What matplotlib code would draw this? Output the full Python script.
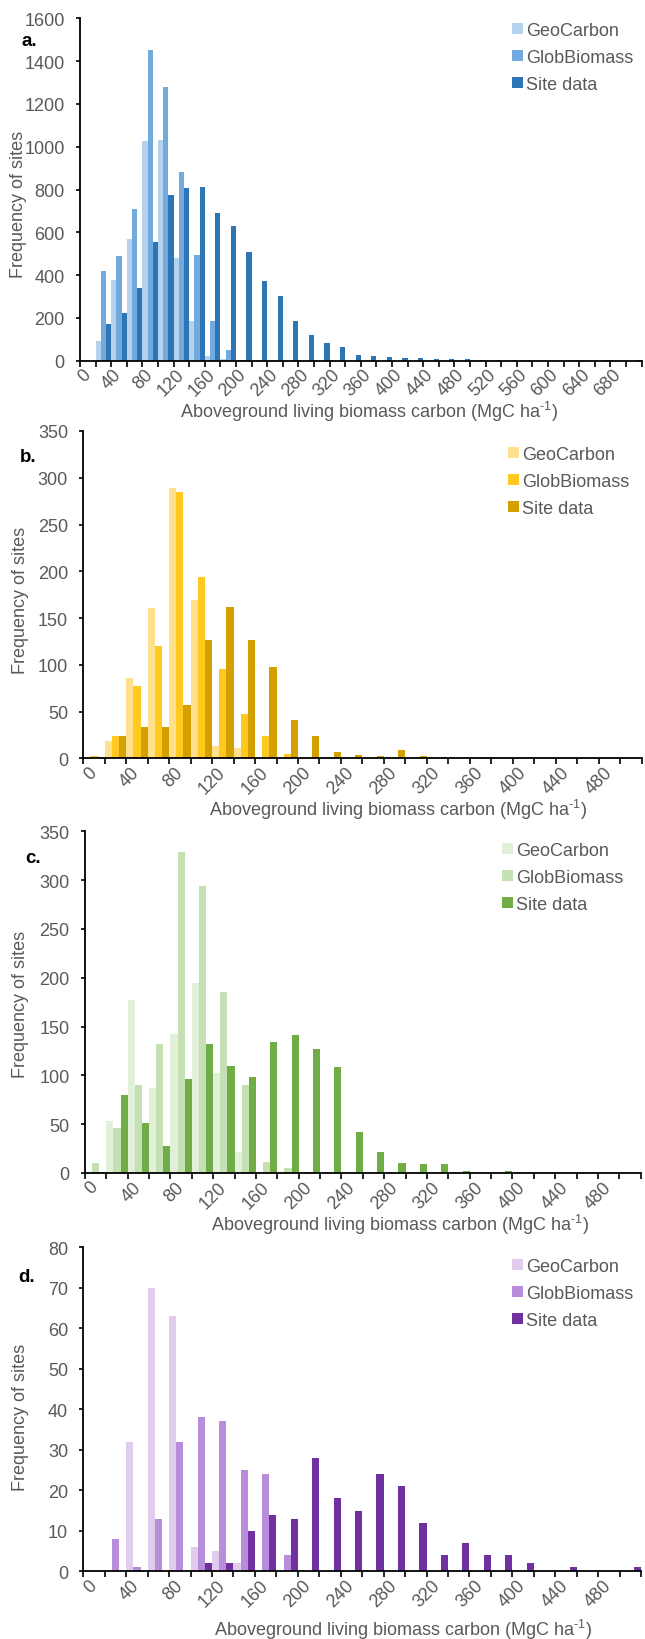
import numpy as np
import matplotlib
matplotlib.use('Agg')
import matplotlib.pyplot as plt

plt.rcParams['font.family'] = ['Liberation Sans', 'DejaVu Sans']
plt.rcParams['mathtext.fontset'] = 'custom'
plt.rcParams['mathtext.rm'] = 'Liberation Sans'
plt.rcParams['mathtext.default'] = 'regular'

# bin starts (MgC/ha) for each panel
bins_a = [0, 20, 40, 60, 80, 100, 120, 140, 160, 180, 200, 220, 240, 260, 280, 300, 320, 340,
          360, 380, 400, 420, 440, 460, 480, 500, 520, 540, 560, 580, 600, 620, 640, 660, 680, 700]
bins_bcd = [0, 20, 40, 60, 80, 100, 120, 140, 160, 180, 200, 220, 240, 260, 280, 300, 320, 340,
            360, 380, 400, 420, 440, 460, 480, 500]

# a.
geo_a = [0, 90, 375, 568, 1025, 1033, 481, 187, 24, 8, 1, 0, 0, 0, 0, 0, 0, 0,
         0, 0, 0, 0, 0, 0, 0, 0, 0, 0, 0, 0, 0, 0, 0, 0, 0, 0]
glob_a = [0, 420, 490, 709, 1453, 1279, 880, 494, 187, 52, 3, 0, 0, 0, 0, 0, 0, 0,
          0, 0, 0, 0, 0, 0, 0, 0, 0, 0, 0, 0, 0, 0, 0, 0, 0, 0]
site_a = [0, 170, 225, 338, 553, 773, 808, 813, 688, 631, 506, 374, 301, 187, 118, 83, 62, 28,
          20, 17, 11, 14, 8, 6, 8, 3, 2, 2, 2, 0, 0, 1, 0, 1, 0, 1]

# b.
geo_b = [0, 19, 86, 161, 289, 169, 13, 11, 0, 0, 0, 0, 0, 0, 0, 0, 0, 0, 0, 0, 0, 0, 0, 0, 0, 0]
glob_b = [2, 24, 77, 120, 285, 194, 96, 47, 24, 5, 0, 0, 0, 0, 0, 0, 0, 0, 0, 0, 0, 0, 0, 0, 0, 0]
site_b = [1, 24, 33, 34, 57, 126, 162, 127, 98, 41, 24, 7, 3, 2, 9, 2, 1, 1, 1, 0, 1, 0, 0, 0, 0, 0]

# c.
geo_c = [0, 53, 177, 87, 142, 195, 102, 22, 0, 0, 0, 0, 0, 0, 0, 0, 0, 0, 0, 0, 0, 0, 0, 0, 0, 0]
glob_c = [10, 46, 90, 132, 329, 294, 185, 90, 11, 5, 1, 0, 0, 0, 0, 0, 0, 0, 0, 0, 0, 0, 0, 0, 0, 0]
site_c = [1, 80, 51, 28, 96, 132, 110, 98, 134, 141, 127, 109, 42, 22, 10, 9, 9, 2, 0, 2, 0, 0, 0, 0, 0, 0]

# d.
geo_d = [0, 0, 32, 70, 63, 6, 5, 2, 0, 0, 0, 0, 0, 0, 0, 0, 0, 0, 0, 0, 0, 0, 0, 0, 0, 0]
glob_d = [0, 8, 1, 13, 32, 38, 37, 25, 24, 4, 0, 0, 0, 0, 0, 0, 0, 0, 0, 0, 0, 0, 0, 0, 0, 0]
site_d = [0, 0, 0, 0, 0, 2, 2, 10, 14, 13, 28, 18, 15, 24, 21, 12, 4, 7, 4, 4, 2, 0, 1, 0, 0, 1]

series_names = ['GeoCarbon', 'GlobBiomass', 'Site data']

GREY = '#595959'
FS = 13

fig = plt.figure(figsize=(6.45, 16.4), dpi=100)


def panel(rect, bins, geo, glob, site, colors, ymax, ystep, letter, letter_xy,
          leg_xy, ylab_xy, xlab_xy):
    ax = fig.add_axes(rect)
    x = np.arange(len(bins))
    w = 1 / 3
    for off, vals, c, name in zip([-w, 0, w], [geo, glob, site], colors, series_names):
        ax.bar(x + off, vals, w, color=c, label=name, linewidth=0)
    ax.set_xlim(-0.5, len(bins) - 0.5)
    ax.set_ylim(0, ymax)
    ax.set_yticks(np.arange(0, ymax + 1, ystep))
    ax.set_xticks(x[::2], [str(b) for b in bins[::2]], rotation=45, ha='right',
                  va='center', rotation_mode='anchor')
    ax.set_xticks(np.arange(len(bins) + 1) - 0.5, minor=True)
    ax.tick_params(axis='x', which='major', length=0, pad=8, labelcolor=GREY, labelsize=FS)
    ax.tick_params(axis='x', which='minor', length=4, width=1.2, direction='out')
    ax.tick_params(axis='y', length=3, width=1.2, pad=8, labelcolor=GREY, labelsize=FS)
    for s in ['top', 'right']:
        ax.spines[s].set_visible(False)
    for s in ['left', 'bottom']:
        ax.spines[s].set_linewidth(1.3)

    ax.set_ylabel('Frequency of sites', color=GREY, fontsize=FS)
    ax.yaxis.set_label_coords(*ylab_xy)
    ax.yaxis.label.set_verticalalignment('center')
    ax.set_xlabel(r'Aboveground living biomass carbon (MgC ha$^{\text{-}1}$)', color=GREY, fontsize=FS)
    ax.xaxis.set_label_coords(*xlab_xy)
    ax.xaxis.label.set_verticalalignment('center')

    ax.legend(loc='upper left', bbox_to_anchor=leg_xy, bbox_transform=fig.transFigure,
              frameon=False, handlelength=0.6, handleheight=0.6, handletextpad=0.2,
              labelspacing=0.55, borderaxespad=0, borderpad=0, fontsize=FS, labelcolor=GREY)
    fig.text(letter_xy[0], letter_xy[1], letter, fontsize=FS + 0.5, fontweight='bold',
             ha='left', va='center')
    return ax


H = 1640.0
W = 645.0


def rect(left, top, right, bottom):
    return [left / W, 1 - bottom / H, (right - left) / W, (bottom - top) / H]


panel(rect(80, 19.3, 641.6, 361.7), bins_a, geo_a, glob_a, site_a,
      ['#B4D2EE', '#72AADD', '#2E75B6'], 1600, 200, 'a.', (22 / W, 1 - 41 / H),
      (512 / W, 1 - 23 / H), (-0.109, 0.459), (0.515, -0.147))
panel(rect(83.3, 432, 641.5, 759.3), bins_bcd, geo_b, glob_b, site_b,
      ['#FFE08C', '#FFC91F', '#D4A000'], 350, 50, 'b.', (20 / W, 1 - 458 / H),
      (508 / W, 1 - 447 / H), (-0.112, 0.485), (0.564, -0.155))
panel(rect(85, 832.3, 640.7, 1174), bins_bcd, geo_c, glob_c, site_c,
      ['#E2F0D9', '#C5E0B3', '#70AD47'], 350, 50, 'c.', (25 / W, 1 - 859 / H),
      (502 / W, 1 - 843 / H), (-0.116, 0.495), (0.567, -0.149))
panel(rect(83.3, 1248.3, 641, 1572.3), bins_bcd, geo_d, glob_d, site_d,
      ['#E2CCEE', '#B88DDB', '#7030A0'], 80, 10, 'd.', (18 / W, 1 - 1278 / H),
      (512 / W, 1 - 1259 / H), (-0.112, 0.478), (0.573, -0.178))

fig.savefig('out.png', dpi=100)
